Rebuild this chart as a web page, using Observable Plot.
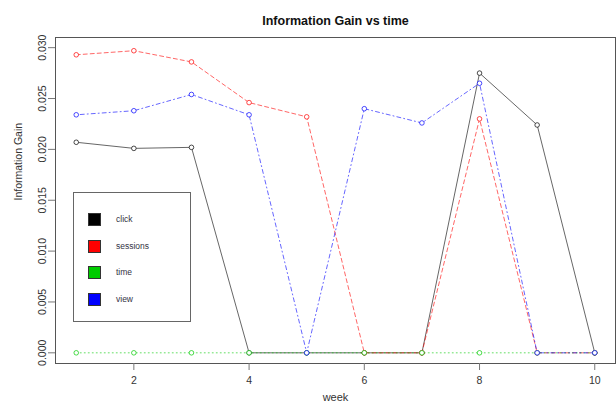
<!DOCTYPE html>
<html><head><meta charset="utf-8">
<script src="https://cdn.jsdelivr.net/npm/d3@7"></script>
<script src="https://cdn.jsdelivr.net/npm/@observablehq/plot@0.6"></script>
<style>
body{margin:0;background:#fff;font-family:"Liberation Sans",Arial,sans-serif;}
#wrap{position:relative;width:616px;height:406px;overflow:hidden;}
#legend{position:absolute;left:73px;top:192px;width:118px;height:130px;border:1px solid #666;box-sizing:border-box;}
.item{position:absolute;left:14px;height:13px;font-size:8.5px;color:#334;}
.sw{position:absolute;left:0;top:0;width:11px;height:11px;border:1px solid #333;}
.lab{position:absolute;left:28px;top:0;line-height:13px;white-space:nowrap;}
</style></head>
<body><div id="wrap"></div>
<script>
const weeks = [1,2,3,4,5,6,7,8,9,10];
const seriesNames = ["click","sessions","time","view"];
const seriesColors = ["#000000","#ff0000","#00cc00","#0000ff"];
const seriesDash = ["none","4,3","1,3","1,3,4,3"];
const click    = [0.0207,0.0201,0.0202,0,0,0,0,0.0275,0.0224,0];
const sessions = [0.0293,0.0297,0.0286,0.0246,0.0232,0,0,0.0230,0,0];
const time     = [0,0,0,0,0,0,0,0,0,0];
const view     = [0.0234,0.0238,0.0254,0.0234,0,0.0240,0.0226,0.0265,0,0];
const xTicks = [2,4,6,8,10];
const yTicks = [0,0.005,0.010,0.015,0.020,0.025,0.030];

const values = [click,sessions,time,view];
const rows = [];
seriesNames.forEach((s,i)=>weeks.forEach((w,j)=>rows.push({series:s,week:w,value:values[i][j],idx:i})));

const lineMarks = seriesNames.map((s,i)=>Plot.line(rows.filter(d=>d.series===s),{
  x:"week",y:"value",stroke:seriesColors[i],strokeWidth:1,strokeOpacity:0.6,strokeDasharray:seriesDash[i]}));
const dotMarks = seriesNames.map((s,i)=>Plot.dot(rows.filter(d=>d.series===s),{
  x:"week",y:"value",r:2.3,stroke:seriesColors[i],strokeOpacity:0.7,fill:"white",strokeWidth:1}));

const chart = Plot.plot({
  width:616,height:406,
  marginLeft:55,marginRight:1,marginTop:37,marginBottom:43,
  style:{fontFamily:"Liberation Sans, Arial, sans-serif",background:"white"},
  x:{domain:[0.64,10.36]},
  y:{domain:[-0.00105,0.031]},
  marks:[
    ...lineMarks,
    ...dotMarks,
    Plot.frame({stroke:"#555"}),
    Plot.axisX({ticks:xTicks,tickSize:7,tickPadding:6,fontSize:10.5,color:"#333",stroke:"#777",label:null,tickFormat:d=>String(d)}),
    Plot.axisY({ticks:yTicks,tickSize:7,tickPadding:3,tickRotate:-90,fontSize:10.5,color:"#333",stroke:"#777",label:null,tickFormat:d=>d3.format(".3f")(d),textAnchor:"middle"}),
    Plot.text(["Information Gain vs time"],{frameAnchor:"top",dy:-21,fontSize:12.5,fontWeight:"bold",fill:"#111"}),
    Plot.text(["week"],{frameAnchor:"bottom",dy:37,fontSize:11,fill:"#333"}),
    Plot.text(["Information Gain"],{frameAnchor:"left",dx:-37,rotate:-90,fontSize:10.5,fill:"#333"})
  ]
});
const wrap = document.getElementById("wrap");
wrap.appendChild(chart);
const leg = document.createElement("div");
leg.id="legend";
const tops=[20,47,73,100];
seriesNames.forEach((s,i)=>{
  const it=document.createElement("div");it.className="item";it.style.top=tops[i]+"px";
  it.innerHTML=`<div class="sw" style="background:${seriesColors[i]}"></div><div class="lab">${s}</div>`;
  leg.appendChild(it);
});
wrap.appendChild(leg);
</script></body></html>
